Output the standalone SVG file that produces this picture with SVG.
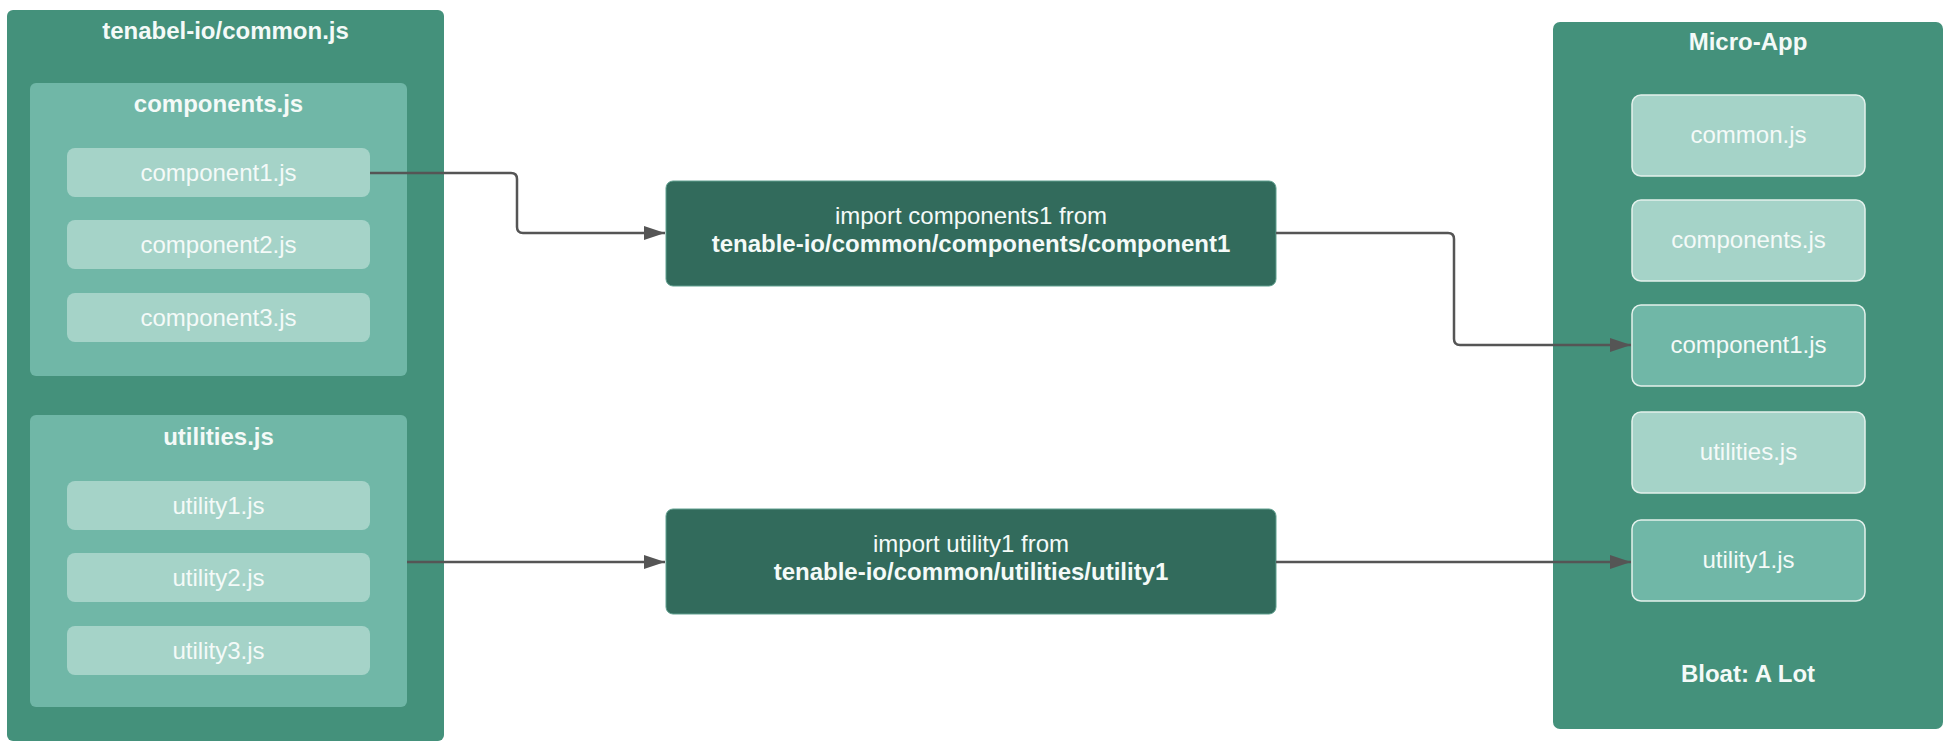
<svg xmlns="http://www.w3.org/2000/svg" width="1952" height="750" viewBox="0 0 1952 750">
<style>
text{font-family:"Liberation Sans",Arial,sans-serif;font-size:24px;text-anchor:middle;fill:#f4faf8}
.b{font-weight:bold}
.outer{fill:#44917b}
.inner{fill:#70b7a7}
.leaf{fill:#a5d3c8}
.dark{fill:#326b5c;stroke:#5f9f8e;stroke-width:1}
.app{fill:#a5d3c8;stroke:#e3f1ec;stroke-width:1.5}
.apph{fill:#70b7a7;stroke:#e3f1ec;stroke-width:1.5}
.conn{fill:none;stroke:#555;stroke-width:2.5}
</style>
<defs>
<marker id="ah" markerWidth="21" markerHeight="14" refX="21" refY="7" orient="auto" markerUnits="userSpaceOnUse">
<path d="M0,0 L21,7 L0,14 Z" fill="#555"/>
</marker>
</defs>
<rect width="1952" height="750" fill="#fff"/>
<g id="common">
<rect class="outer" x="7" y="10" width="437" height="731" rx="6"/>
<text class="b" x="225.5" y="39">tenabel-io/common.js</text>
</g>
<g id="components">
<rect class="inner" x="30" y="83" width="377" height="293" rx="6"/>
<text class="b" x="218.5" y="112">components.js</text>
</g>
<g id="component1">
<rect class="leaf" x="67" y="148" width="303" height="49" rx="8"/>
<text x="218.5" y="181">component1.js</text>
</g>
<g id="component2">
<rect class="leaf" x="67" y="220" width="303" height="49" rx="8"/>
<text x="218.5" y="253">component2.js</text>
</g>
<g id="component3">
<rect class="leaf" x="67" y="293" width="303" height="49" rx="8"/>
<text x="218.5" y="326">component3.js</text>
</g>
<g id="utilities">
<rect class="inner" x="30" y="415" width="377" height="292" rx="6"/>
<text class="b" x="218.5" y="445">utilities.js</text>
</g>
<g id="utility1">
<rect class="leaf" x="67" y="481" width="303" height="49" rx="8"/>
<text x="218.5" y="514">utility1.js</text>
</g>
<g id="utility2">
<rect class="leaf" x="67" y="553" width="303" height="49" rx="8"/>
<text x="218.5" y="586">utility2.js</text>
</g>
<g id="utility3">
<rect class="leaf" x="67" y="626" width="303" height="49" rx="8"/>
<text x="218.5" y="659">utility3.js</text>
</g>
<g id="import-components">
<rect class="dark" x="666" y="181" width="610" height="105" rx="7"/>
<text x="971" y="224">import components1 from</text>
<text class="b" x="971" y="252">tenable-io/common/components/component1</text>
</g>
<g id="import-utility">
<rect class="dark" x="666" y="509" width="610" height="105" rx="7"/>
<text x="971" y="552">import utility1 from</text>
<text class="b" x="971" y="580">tenable-io/common/utilities/utility1</text>
</g>
<g id="micro-app">
<rect class="outer" x="1553" y="22" width="390" height="707" rx="7"/>
<text class="b" x="1748" y="50">Micro-App</text>
<text class="b" x="1748" y="682">Bloat: A Lot</text>
</g>
<g id="app-common">
<rect class="app" x="1632" y="95" width="233" height="81" rx="9"/>
<text x="1748.5" y="143">common.js</text>
</g>
<g id="app-components">
<rect class="app" x="1632" y="200" width="233" height="81" rx="9"/>
<text x="1748.5" y="248">components.js</text>
</g>
<g id="app-component1">
<rect class="apph" x="1632" y="305" width="233" height="81" rx="9"/>
<text x="1748.5" y="353">component1.js</text>
</g>
<g id="app-utilities">
<rect class="app" x="1632" y="412" width="233" height="81" rx="9"/>
<text x="1748.5" y="460">utilities.js</text>
</g>
<g id="app-utility1">
<rect class="apph" x="1632" y="520" width="233" height="81" rx="9"/>
<text x="1748.5" y="568">utility1.js</text>
</g>
<g id="connectors">
<path class="conn" d="M370,173 H511 Q517,173 517,179 V227 Q517,233 523,233 H665" marker-end="url(#ah)"/>
<path class="conn" d="M1276,233 H1448 Q1454,233 1454,239 V339 Q1454,345 1460,345 H1631" marker-end="url(#ah)"/>
<path class="conn" d="M407,562 H665" marker-end="url(#ah)"/>
<path class="conn" d="M1276,562 H1631" marker-end="url(#ah)"/>
</g>
</svg>
